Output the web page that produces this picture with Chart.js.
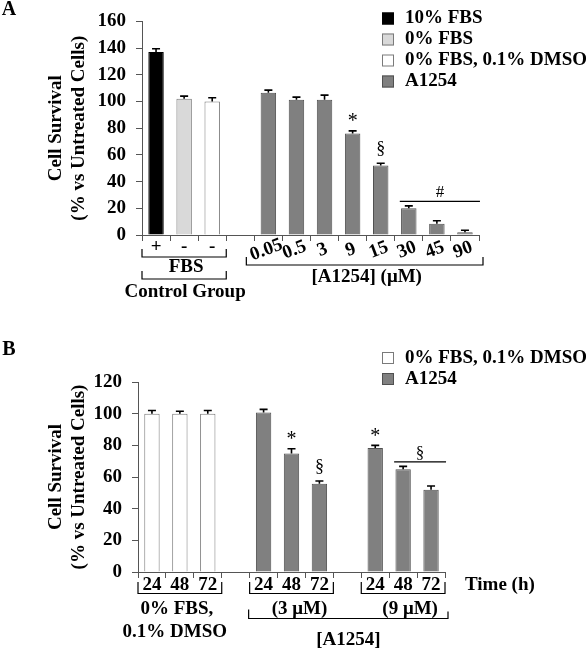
<!DOCTYPE html>
<html>
<head>
<meta charset="utf-8">
<script src="https://cdn.jsdelivr.net/npm/chart.js@4.4.0/dist/chart.umd.min.js"></script>
<style>
  html, body { margin: 0; padding: 0; background: #fff; }
  #wrap { position: relative; width: 586px; height: 648px; }
  canvas { position: absolute; left: 0; }
  #chartA { top: 0; }
  #chartB { top: 320px; }
</style>
</head>
<body>
<div id="wrap">
  <canvas id="chartA" width="586" height="320"></canvas>
  <canvas id="chartB" width="586" height="328"></canvas>
</div>
<script>
// panel A : dose response
const catA = ['+', '-', '-', '', '0.05', '0.5', '3', '9', '15', '30', '45', '90'];
const fbs10A = [137, null, null, null, null, null, null, null, null, null, null, null];
const fbs0A = [null, 102, null, null, null, null, null, null, null, null, null, null];
const dmsoA = [null, null, 100, null, null, null, null, null, null, null, null, null];
const a1254A = [null, null, null, null, 106.5, 101.3, 101.3, 76, 52, 20, 8.5, 2];
const errA = [2.5, 2, 2.8, 0, 2, 2, 3.5, 2, 1.8, 1.8, 2.2, 1.6];
const ticksA = [0, 20, 40, 60, 80, 100, 120, 140, 160];

// panel B : time course
const catB = ['24', '48', '72', '', '24', '48', '72', '', '24', '48', '72'];
const dmsoB = [100, 100, 100, null, null, null, null, null, null, null, null];
const a1254B = [null, null, null, null, 100.7, 74.8, 55.8, null, 78.3, 64.9, 52];
const errB = [2, 1.5, 2, 0, 2, 3, 1.7, 0, 1.7, 1.8, 2.3];
const ticksB = [0, 20, 40, 60, 80, 100, 120];

const FONT = '"Liberation Serif", "Times New Roman", serif';
const AXIS = '#555';
const FS = 19;

Chart.defaults.font.family = FONT;
Chart.defaults.font.size = FS;
Chart.defaults.font.weight = 'bold';
Chart.defaults.color = '#000';

function txt(ctx, s, x, y, opt = {}) {
  ctx.save();
  ctx.font = `${opt.weight || 'bold'} ${opt.size || FS}px ${FONT}`;
  ctx.fillStyle = '#000';
  ctx.textAlign = opt.align || 'center';
  ctx.textBaseline = 'middle';
  ctx.translate(x, y);
  if (opt.rot) ctx.rotate(opt.rot);
  ctx.fillText(s, 0, 0);
  ctx.restore();
}

function bracket(ctx, x1, x2, y, up1, up2) {
  ctx.save();
  ctx.strokeStyle = '#000';
  ctx.lineWidth = 1.2;
  ctx.beginPath();
  ctx.moveTo(x1, y - up1);
  ctx.lineTo(x1, y);
  ctx.lineTo(x2, y);
  ctx.lineTo(x2, y - (up2 == null ? up1 : up2));
  ctx.stroke();
  ctx.restore();
}

function edges(scale, i, j) {
  const w = scale.getPixelForValue(1) - scale.getPixelForValue(0);
  return [scale.getPixelForValue(i) - w / 2, scale.getPixelForValue(j) + w / 2];
}

function valAt(chart, i) {
  for (const ds of chart.data.datasets) if (ds.data[i] != null) return ds.data[i];
  return null;
}

function errorBars(chart, errs) {
  const ctx = chart.ctx, y = chart.scales.y;
  chart.data.datasets.forEach((ds, di) => {
    chart.getDatasetMeta(di).data.forEach((bar, i) => {
      const v = ds.data[i];
      if (v == null || !errs[i]) return;
      const top = y.getPixelForValue(v), cap = y.getPixelForValue(v + errs[i]);
      ctx.save();
      ctx.strokeStyle = '#000';
      ctx.lineWidth = 1.6;
      ctx.beginPath();
      ctx.moveTo(bar.x, top);
      ctx.lineTo(bar.x, cap);
      ctx.moveTo(bar.x - 4, cap);
      ctx.lineTo(bar.x + 4, cap);
      ctx.stroke();
      ctx.restore();
    });
  });
}

function capPx(chart, i, errs) {
  return chart.scales.y.getPixelForValue(valAt(chart, i) + errs[i]);
}

function mark(chart, i, sym, errs) {
  const x = chart.scales.x.getPixelForValue(i);
  const star = sym === '*';
  txt(chart.ctx, sym, x, capPx(chart, i, errs) - (star ? 9 : 14), { weight: 'normal', size: star ? 20 : 18 });
}

function groupMark(chart, from, to, sym, errs) {
  const ctx = chart.ctx, x = chart.scales.x;
  let top = Infinity;
  for (let i = from; i <= to; i++) top = Math.min(top, capPx(chart, i, errs));
  const ly = top - 4.5;
  const x1 = x.getPixelForValue(from) - 9, x2 = x.getPixelForValue(to) + 15;
  ctx.save();
  ctx.strokeStyle = '#000';
  ctx.lineWidth = 1.2;
  ctx.beginPath();
  ctx.moveTo(x1, ly);
  ctx.lineTo(x2, ly);
  ctx.stroke();
  ctx.restore();
  txt(ctx, sym, (x1 + x2) / 2, ly - 8.5, { weight: 'normal', size: 17 });
}

function legend(chart, x, y0, dy) {
  const ctx = chart.ctx;
  chart.data.datasets.forEach((ds, i) => {
    const y = y0 + i * dy;
    ctx.save();
    ctx.fillStyle = ds.backgroundColor;
    ctx.fillRect(x, y - 6, 12, 12);
    ctx.strokeStyle = ds.borderColor;
    ctx.lineWidth = 1;
    ctx.strokeRect(x + 0.5, y - 5.5, 11, 11);
    ctx.restore();
    txt(ctx, ds.label, x + 23, y, { align: 'left' });
  });
}

function yAxis(ticks, width) {
  return {
    min: ticks[0],
    max: ticks[ticks.length - 1],
    afterBuildTicks: (s) => { s.ticks = ticks.map(v => ({ value: v })); },
    afterFit: (s) => { s.width = width; },
    grid: { drawOnChartArea: false, tickLength: 6, color: AXIS },
    border: { color: AXIS },
    ticks: { padding: 10, font: { size: FS, weight: 'bold' } },
    title: {
      display: true,
      text: ['Cell Survival', '(% vs Untreated Cells)'],
      font: { size: FS, weight: 'bold', lineHeight: 1.21 },
      padding: { top: 45, bottom: 0 }
    }
  };
}

function bars(label, data, bg, border) {
  return {
    label, data,
    backgroundColor: bg,
    borderColor: border,
    borderWidth: 1,
    grouped: false,
    barPercentage: 0.55,
    categoryPercentage: 1
  };
}

const decorA = {
  id: 'decorA',
  afterDatasetsDraw(chart) {
    const ctx = chart.ctx, x = chart.scales.x, b = chart.chartArea.bottom;
    errorBars(chart, errA);
    mark(chart, 7, '*', errA);
    mark(chart, 8, '§', errA);
    groupMark(chart, 9, 11, '#', errA);

    catA.forEach((c, i) => {
      if (!c) return;
      const px = x.getPixelForValue(i);
      if (i < 3) txt(ctx, c, px, b + 12);
      else txt(ctx, c, px - 2, b + 15, { rot: -0.36 });
    });

    const [f1, f2] = edges(x, 0, 2);
    bracket(ctx, f1, f2, b + 22, 8);
    txt(ctx, 'FBS', (f1 + f2) / 2 + 2, b + 32);
    bracket(ctx, f1, f2, b + 44, 8);
    txt(ctx, 'Control Group', (f1 + f2) / 2 + 1, b + 57);

    const [d1, d2] = edges(x, 4, 11);
    bracket(ctx, d1 - 8, d2 + 4, b + 30, 8);
    txt(ctx, '[A1254] (μM)', (d1 + d2) / 2, b + 42);

    legend(chart, 382, 18.5, 21);
    txt(ctx, 'A', 9, 10, { size: 20 });
  }
};

const decorB = {
  id: 'decorB',
  afterDatasetsDraw(chart) {
    const ctx = chart.ctx, x = chart.scales.x, a = chart.chartArea, b = a.bottom;
    errorBars(chart, errB);
    mark(chart, 5, '*', errB);
    mark(chart, 6, '§', errB);
    mark(chart, 8, '*', errB);
    groupMark(chart, 9, 10, '§', errB);

    txt(ctx, 'Time (h)', a.right + 20, b + 13.5, { align: 'left' });

    const [g1, g2] = edges(x, 0, 2);
    bracket(ctx, g1, g2, b + 21.5, 11.5);
    txt(ctx, '0% FBS,', (g1 + g2) / 2 - 3, b + 37);
    txt(ctx, '0.1% DMSO', (g1 + g2) / 2 - 5, b + 60);

    const [h1, h2] = edges(x, 4, 6);
    bracket(ctx, h1, h2, b + 21.5, 11.5);
    txt(ctx, '(3 μM)', (h1 + h2) / 2 + 8, b + 37);

    const [k1, k2] = edges(x, 8, 10);
    bracket(ctx, k1, k2, b + 21.5, 11.5);
    txt(ctx, '(9 μM)', (k1 + k2) / 2 + 7, b + 37);

    bracket(ctx, h1 - 1, k2 + 3, b + 46.5, 9, 7);
    txt(ctx, '[A1254]', (h1 - 1 + k2 + 3) / 2, b + 68.5);

    legend(chart, 382, 38, 21);
    txt(ctx, 'B', 9, 30, { size: 20 });
  }
};

new Chart('chartA', {
  type: 'bar',
  data: {
    labels: catA,
    datasets: [
      bars('10% FBS', fbs10A, '#000000', '#000000'),
      bars('0% FBS', fbs0A, '#d9d9d9', '#7a7a7a'),
      bars('0% FBS, 0.1% DMSO', dmsoA, '#ffffff', '#7a7a7a'),
      bars('A1254', a1254A, '#808080', '#505050')
    ]
  },
  options: {
    responsive: false,
    animation: false,
    devicePixelRatio: 1,
    layout: { padding: { left: 0, top: 15, right: 107, bottom: 75 } },
    plugins: { legend: { display: false }, tooltip: { enabled: false } },
    scales: {
      x: {
        offset: true,
        afterFit: (s) => { s.height = 10; },
        grid: { offset: true, drawOnChartArea: false, tickLength: 6, color: AXIS },
        border: { color: AXIS },
        ticks: { display: false }
      },
      y: yAxis(ticksA, 142)
    }
  },
  plugins: [decorA]
});

new Chart('chartB', {
  type: 'bar',
  data: {
    labels: catB,
    datasets: [
      bars('0% FBS, 0.1% DMSO', dmsoB, '#ffffff', '#7a7a7a'),
      bars('A1254', a1254B, '#808080', '#505050')
    ]
  },
  options: {
    responsive: false,
    animation: false,
    devicePixelRatio: 1,
    layout: { padding: { left: 0, top: 62, right: 141, bottom: 56 } },
    plugins: { legend: { display: false }, tooltip: { enabled: false } },
    scales: {
      x: {
        offset: true,
        afterFit: (s) => { s.height = 20; },
        grid: { offset: true, drawOnChartArea: false, tickLength: 6, color: AXIS },
        border: { color: AXIS },
        ticks: { autoSkip: false, maxRotation: 0, minRotation: 0, padding: -2, font: { size: FS, weight: 'bold', lineHeight: 1 } }
      },
      y: yAxis(ticksB, 138)
    }
  },
  plugins: [decorB]
});
</script>
</body>
</html>
